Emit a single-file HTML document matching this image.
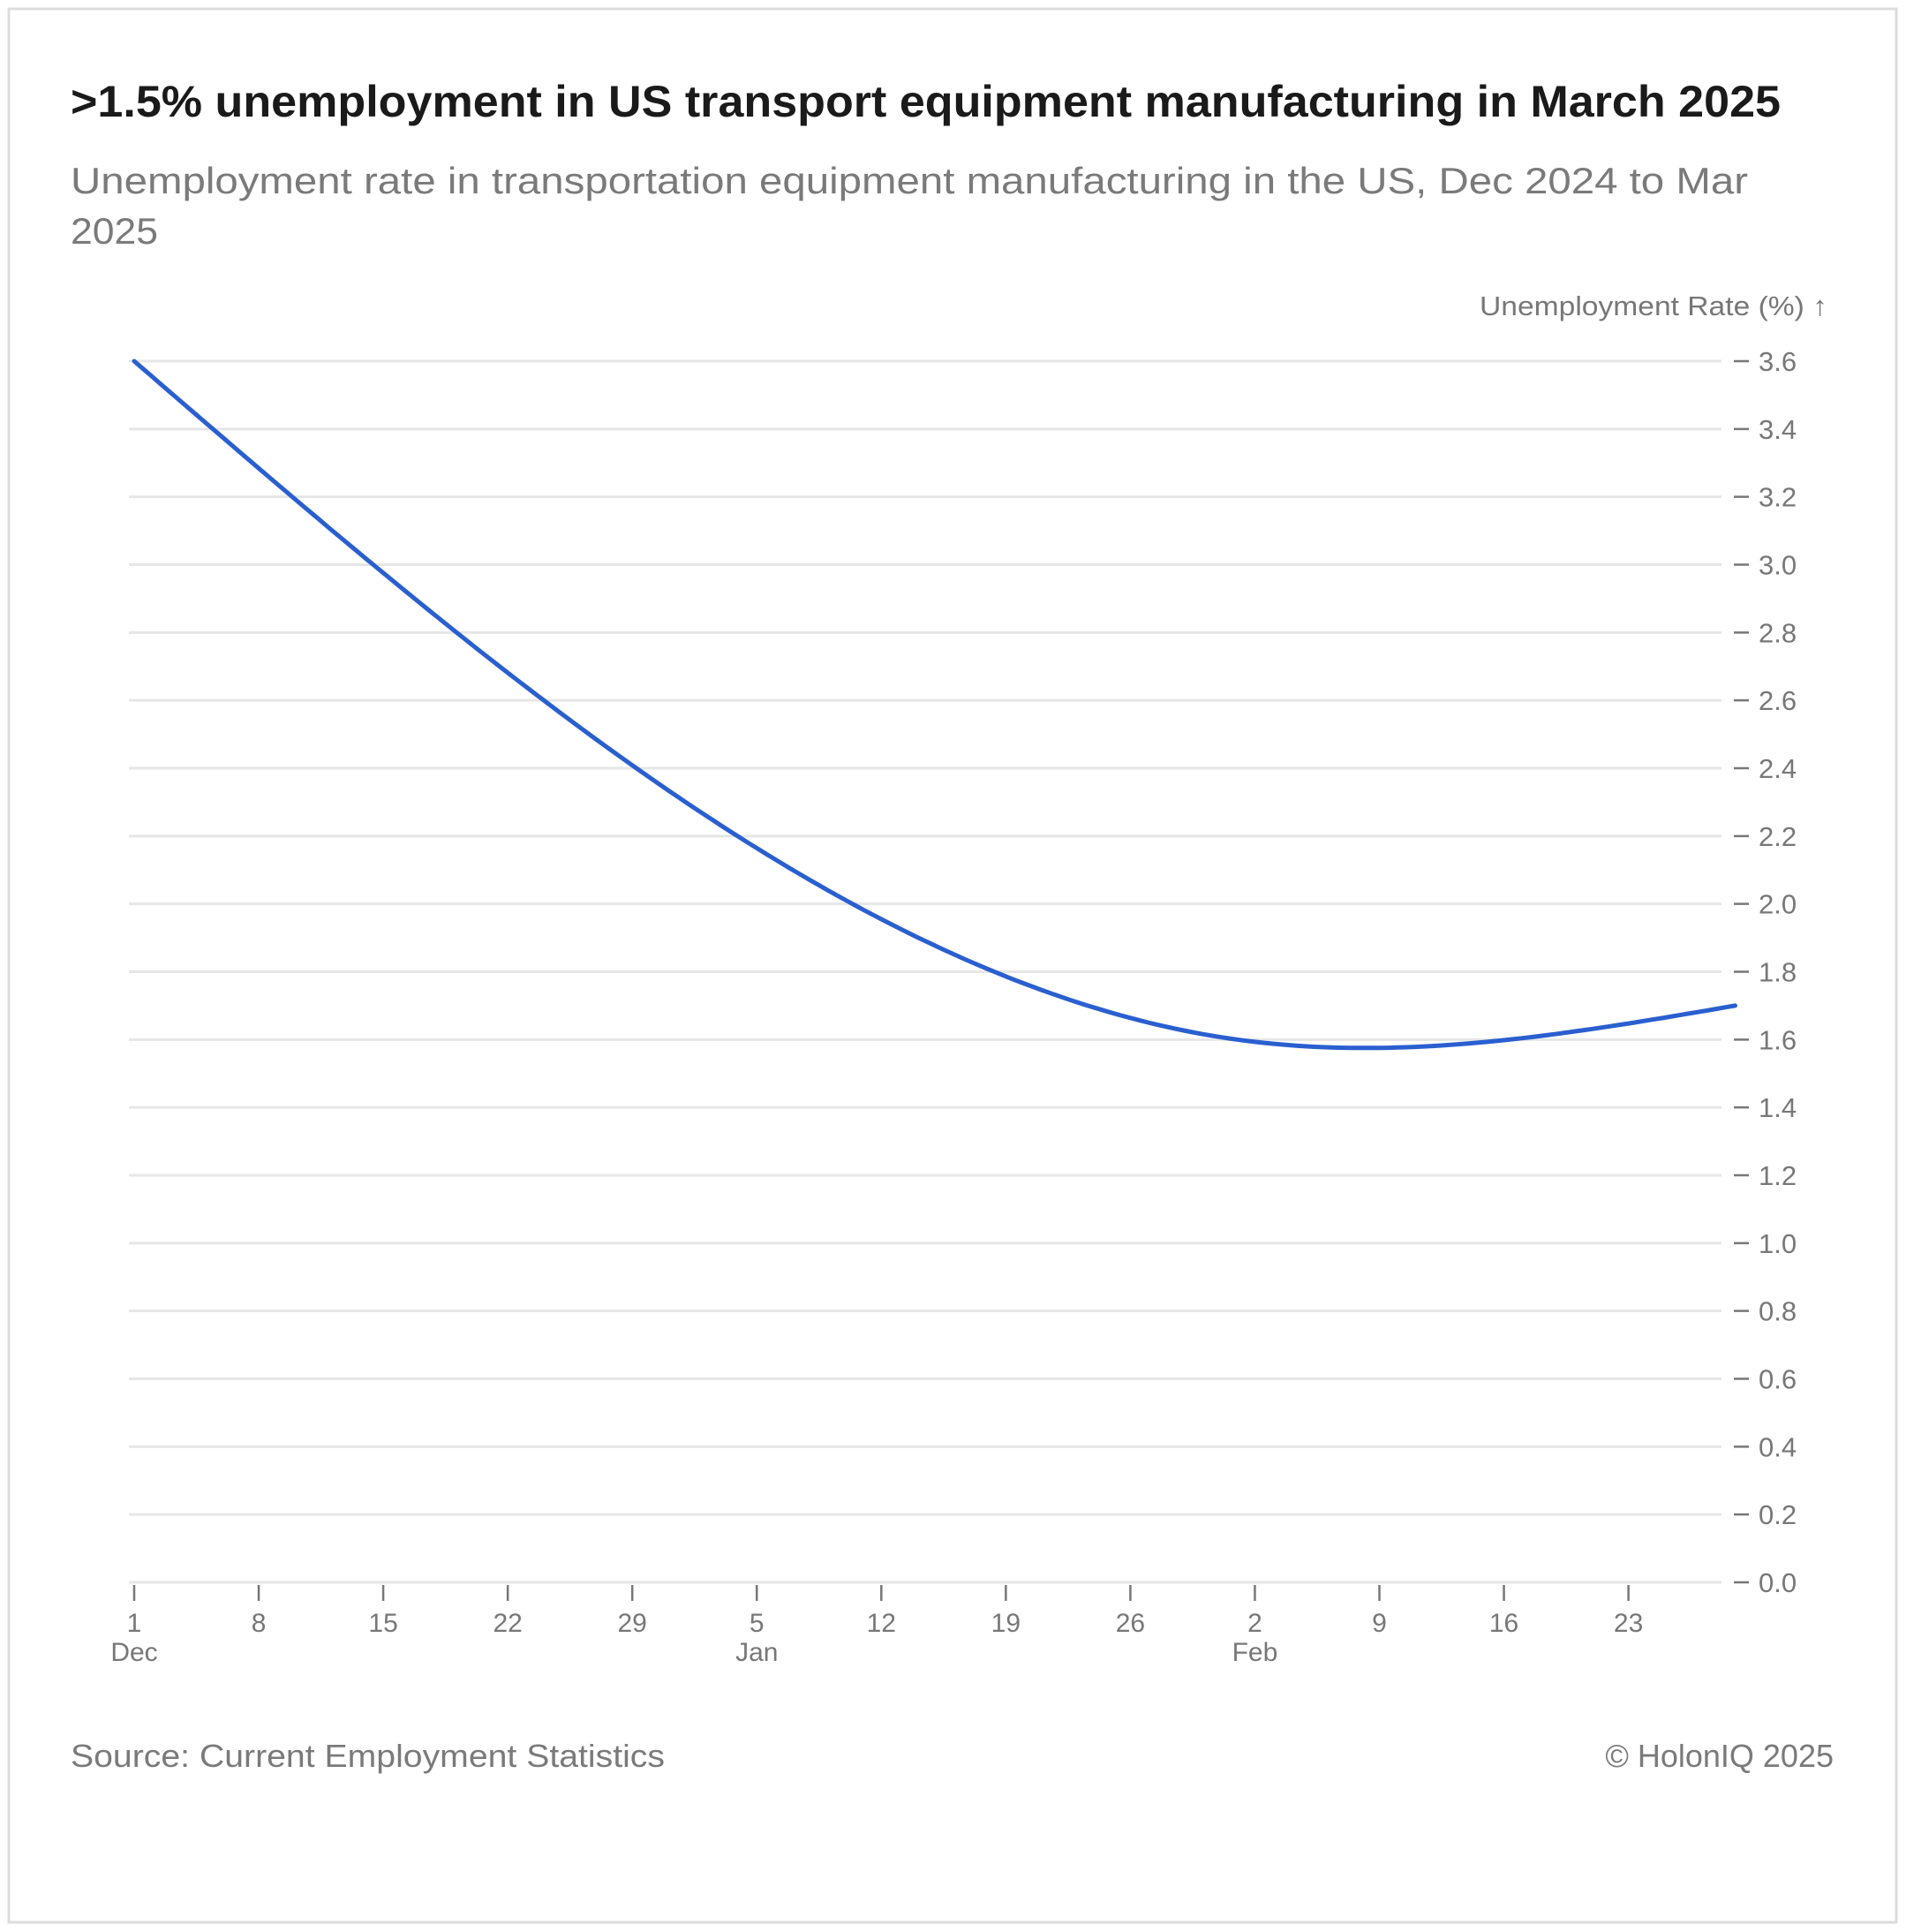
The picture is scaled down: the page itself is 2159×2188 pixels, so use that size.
<!DOCTYPE html>
<html><head><meta charset="utf-8"><style>
html,body{margin:0;padding:0;background:#fff}
svg{display:block}
text{font-family:"Liberation Sans",sans-serif}
</style></head><body>
<svg id="chart" width="2159" height="2188" viewBox="0 0 2159 2188" xmlns="http://www.w3.org/2000/svg">
<rect x="10" y="10" width="2138" height="2167" fill="#fff" stroke="#dcdcdc" stroke-width="3"/>
<text x="80" y="132" font-size="50" font-weight="bold" fill="#1a1a1a" textLength="1937" lengthAdjust="spacingAndGlyphs">&gt;1.5% unemployment in US transport equipment manufacturing in March 2025</text>
<text x="80" y="219" font-size="42" fill="#7a7a7a" textLength="1900" lengthAdjust="spacingAndGlyphs">Unemployment rate in transportation equipment manufacturing in the US, Dec 2024 to Mar</text>
<text x="80" y="276" font-size="42" fill="#7a7a7a" textLength="99" lengthAdjust="spacingAndGlyphs">2025</text>
<text x="1676" y="357" font-size="31" fill="#777" textLength="394" lengthAdjust="spacingAndGlyphs">Unemployment Rate (%) ↑</text>
<g id="grid"></g>
<g id="yaxis"></g>
<g id="xaxis"></g>
<g id="series"></g>
<text x="80" y="2001" font-size="36" fill="#7a7a7a" textLength="673" lengthAdjust="spacingAndGlyphs">Source: Current Employment Statistics</text>
<text x="2077" y="2001" font-size="36" fill="#7a7a7a" text-anchor="end">© HolonIQ 2025</text>
</svg>
<script>
const monthDays = [0, 31, 62, 90];
const monthValues = [3.6, 2.30, 1.60, 1.70];
const yTicks = [0,0.2,0.4,0.6,0.8,1.0,1.2,1.4,1.6,1.8,2.0,2.2,2.4,2.6,2.8,3.0,3.2,3.4,3.6];
const xTickDays = [0,7,14,21,28,35,42,49,56,63,70,77,84];
const xTickLabels = ["1","8","15","22","29","5","12","19","26","2","9","16","23"];
const xMonthLabels = ["Dec","","","","","Jan","","","","Feb","","",""];

const NS = "http://www.w3.org/2000/svg";
const y = v => 1792 - v * (1383 / 3.6);
const x = d => 152 + d * 20.15;
function mk(tag, attrs, parent) {
  const e = document.createElementNS(NS, tag);
  for (const k in attrs) e.setAttribute(k, attrs[k]);
  parent.appendChild(e);
  return e;
}
const grid = document.getElementById('grid');
const yaxis = document.getElementById('yaxis');
const xaxis = document.getElementById('xaxis');
const series = document.getElementById('series');

yTicks.forEach(v => {
  const l = mk('line', {x1:146, x2:1950, y1:y(v), y2:y(v), stroke:'#e6e6e6', 'stroke-width':3}, grid);
  
  
  const t = mk('line', {x1:1964, x2:1981, y1:y(v), y2:y(v), stroke:'#777', 'stroke-width':2.5}, yaxis);
  
  
  const tx = mk('text', {x:1992, y:y(v)+11, 'font-size':31, fill:'#777'}, yaxis);
  tx.textContent = v.toFixed(1);
  
  
});

xTickDays.forEach((d, i) => {
  const t = mk('line', {x1:x(d), x2:x(d), y1:1795, y2:1813, stroke:'#777', 'stroke-width':2.5}, xaxis);
  
  
  const tx = mk('text', {x:x(d), y:1848, 'font-size':30, fill:'#777', 'text-anchor':'middle'}, xaxis);
  tx.textContent = xTickLabels[i];
  
  
  if (xMonthLabels[i]) {
    const m = mk('text', {x:x(d), y:1881, 'font-size':30, fill:'#777', 'text-anchor':'middle'}, xaxis);
    m.textContent = xMonthLabels[i];
    
    
  }
});

function naturalSpline(xs, ys) {
  const n = xs.length - 1, h = [], a = [], l = [1], mu = [0], z = [0], c = new Array(n+1).fill(0), b = [], dd = [];
  for (let i = 0; i < n; i++) h[i] = xs[i+1] - xs[i];
  for (let i = 1; i < n; i++) a[i] = 3/h[i]*(ys[i+1]-ys[i]) - 3/h[i-1]*(ys[i]-ys[i-1]);
  for (let i = 1; i < n; i++) {
    l[i] = 2*(xs[i+1]-xs[i-1]) - h[i-1]*mu[i-1];
    mu[i] = h[i]/l[i];
    z[i] = (a[i] - h[i-1]*z[i-1])/l[i];
  }
  for (let j = n-1; j >= 0; j--) {
    c[j] = z[j] - mu[j]*c[j+1];
    b[j] = (ys[j+1]-ys[j])/h[j] - h[j]*(c[j+1]+2*c[j])/3;
    dd[j] = (c[j+1]-c[j])/(3*h[j]);
  }
  return t => {
    let i = 0;
    while (i < n-1 && t > xs[i+1]) i++;
    const dx = t - xs[i];
    return ys[i] + b[i]*dx + c[i]*dx*dx + dd[i]*dx*dx*dx;
  };
}
const f = naturalSpline(monthDays, monthValues);
const last = monthDays[monthDays.length-1];
let d = '';
for (let t = 0; t <= last; t += 0.5) d += (t === 0 ? 'M' : 'L') + x(t).toFixed(1) + ',' + y(f(t)).toFixed(1);
const path = mk('path', {d:d, fill:'none', stroke:'#2a5fcf', 'stroke-width':5, 'stroke-linecap':'round', 'stroke-linejoin':'round'}, series);


</script>
</body></html>
